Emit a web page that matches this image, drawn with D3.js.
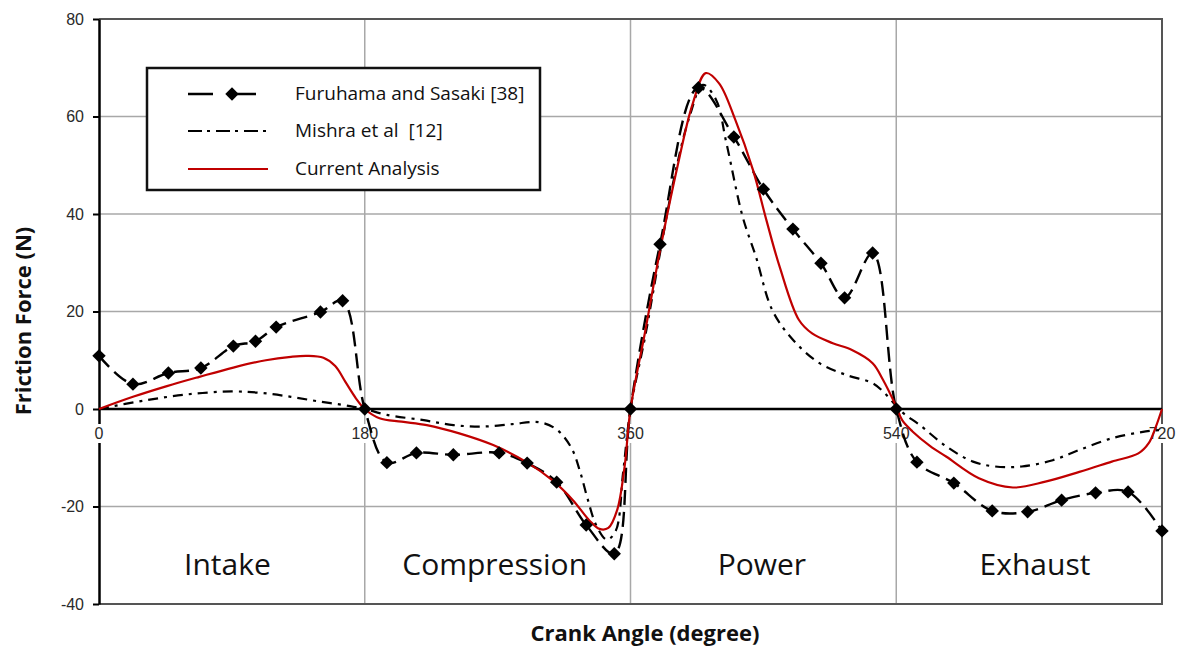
<!DOCTYPE html>
<html>
<head>
<meta charset="utf-8">
<script src="https://cdn.jsdelivr.net/npm/d3@7/dist/d3.min.js"></script>
<style>
  html, body { margin: 0; padding: 0; background: #fff; }
  svg { display: block; }
</style>
</head>
<body>
<svg id="chart" width="1184" height="649"></svg>
<script>
// Piston ring friction force over one four-stroke cycle (crank angle in degrees)

// Furuhama and Sasaki [38] – measured points (shown with diamond markers)
const furuhamaAngle = [0, 23, 47, 69, 91, 106, 120, 150, 165, 180, 195, 215, 240, 271, 290, 310, 330, 349, 360,
  380, 406, 430, 450, 470, 489, 505, 524, 540, 554, 579, 605, 629, 652, 675, 697, 720];
const furuhamaForce = [10.9, 5.1, 7.4, 8.4, 12.9, 13.9, 16.8, 19.9, 22.2, 0, -11, -9, -9.4, -9, -11.1, -15, -23.8, -29.7, 0,
  33.8, 65.9, 55.8, 45.1, 36.9, 29.9, 22.8, 32, 0, -10.9, -15.2, -20.9, -21.1, -18.7, -17.2, -17, -25];

// Mishra et al [12]
const mishraAngle = [0, 30, 60, 90, 110, 130, 150, 170, 180, 195, 220, 240, 260, 280, 298, 310, 320, 326, 331, 337, 344, 350, 355, 360,
  370, 380, 390, 400, 409, 418, 425, 436, 445, 456, 470, 488, 506, 524, 532, 540, 545, 556, 574, 592, 607, 625, 646, 664, 686, 709, 720];
const mishraForce = [0, 1.7, 3, 3.6, 3.3, 2.5, 1.5, 0.6, 0, -1.2, -2.3, -3.3, -3.6, -3.1, -2.7, -4.2, -8, -13, -18.5, -24, -26.8, -25, -13, 0,
  15, 32, 48, 60, 66.5, 63.4, 54.5, 39.4, 31.2, 20.3, 14.2, 9.4, 7, 5.3, 3.3, 0.6, -0.9, -3.3, -7.7, -10.8, -11.8, -11.8, -10.5, -8.4, -6, -4.6, -4.3];

// Current analysis
const currentAngle = [0, 23, 46, 68, 91, 113, 130, 141, 152, 160, 167, 174, 180, 190, 205, 222, 244, 267, 289, 307, 321, 332, 339, 345, 351, 356, 360,
  370, 380, 392, 402, 411, 420, 431, 443, 452, 461, 474, 483, 497, 510, 524, 531, 540, 544, 551, 563, 574, 596, 619, 641, 664, 686, 704, 711, 716, 720];
const currentForce = [0, 2.5, 4.7, 6.6, 8.5, 10, 10.7, 10.9, 10.5, 8.8, 5.5, 2.2, 0, -1.9, -2.6, -3.3, -5, -7.4, -10.8, -14.6, -18.7, -22.8, -24.6, -24.4, -20.7, -11.8, 0,
  16, 32.5, 50, 62.5, 68.9, 66.8, 59.3, 49, 38.8, 29.2, 18.3, 15.5, 13.5, 12.1, 9.4, 6, 0.5, -2.3, -4.6, -7.6, -9.8, -14.2, -16.1, -14.9, -12.9, -10.8, -9.1, -7, -3.5, 0];

const xTicks = [0, 180, 360, 540, 720];
const yTicks = [-40, -20, 0, 20, 40, 60, 80];
const strokeNames = ["Intake", "Compression", "Power", "Exhaust"];
const legendNames = ["Furuhama and Sasaki [38]", "Mishra et al  [12]", "Current Analysis"];

const svg = d3.select("#chart");
const x = d3.scaleLinear().domain([0, 720]).range([99, 1162]);
const y = d3.scaleLinear().domain([-40, 80]).range([604, 19]);

const toPts = (a, f) => a.map((d, i) => [d, f[i]]);
const furuhama = toPts(furuhamaAngle, furuhamaForce);
const mishra = toPts(mishraAngle, mishraForce);
const current = toPts(currentAngle, currentForce);

const calibriLike = "'Open Sans', 'Noto Sans', sans-serif";
const tickFont = "'Liberation Sans', Arial, sans-serif";

// grid
const grid = svg.append("g");
grid.selectAll("line.h").data(yTicks.filter(v => v !== 0 && v !== 80 && v !== -40)).join("line")
  .attr("x1", x(0)).attr("x2", x(720)).attr("y1", d => y(d)).attr("y2", d => y(d))
  .attr("stroke", "#a8a8a8").attr("stroke-width", 1.5);
grid.selectAll("line.v").data(xTicks.filter(v => v !== 0 && v !== 720)).join("line")
  .attr("x1", d => x(d)).attr("x2", d => x(d)).attr("y1", y(80)).attr("y2", y(-40))
  .attr("stroke", "#a8a8a8").attr("stroke-width", 1.5);

// plot frame (top, right, bottom)
grid.append("path")
  .attr("d", `M${x(0)},${y(80)}H${x(720)}V${y(-40)}H${x(0)}`)
  .attr("fill", "none").attr("stroke", "#555").attr("stroke-width", 2);

// zero line
svg.append("line").attr("x1", x(0)).attr("x2", x(720)).attr("y1", y(0)).attr("y2", y(0))
  .attr("stroke", "#000").attr("stroke-width", 2.5);

// y axis
const yAxis = svg.append("g").attr("transform", `translate(${x(0)},0)`)
  .call(d3.axisLeft(y).tickValues(yTicks).tickFormat(d => String(d))
    .tickSize(6).tickSizeOuter(0).tickPadding(9));
yAxis.select(".domain").attr("stroke", "#000").attr("stroke-width", 2.5);
yAxis.selectAll(".tick line").attr("stroke", "#000").attr("stroke-width", 2);
yAxis.selectAll(".tick text").attr("font-family", tickFont)
  .attr("font-size", 16).attr("fill", "#2a2a2a");

// x tick labels sit just under the zero line on a white patch
const xLab = svg.append("g");
xTicks.forEach(v => {
  const t = xLab.append("text").attr("x", x(v)).attr("y", y(0) + 30)
    .attr("text-anchor", "middle")
    .attr("font-family", tickFont)
    .attr("font-size", 16).attr("fill", "#2a2a2a").text(String(v));
  const b = t.node().getBBox();
  xLab.insert("rect", "text").attr("x", b.x - 1).attr("y", b.y - 1)
    .attr("width", b.width + 2).attr("height", b.height + 2).attr("fill", "#fff");
});

// stroke names, centred in each half-revolution band
const strokeMid = [87, 268, 449, 634];
svg.append("g").selectAll("text").data(strokeNames).join("text")
  .attr("x", (d, i) => x(strokeMid[i]))
  .attr("y", 575)
  .attr("text-anchor", "middle").attr("font-family", calibriLike).attr("font-size", 30)
  .attr("fill", "#111").text(d => d);

// series
const line = d3.line().x(d => x(d[0])).y(d => y(d[1])).curve(d3.curveCatmullRom.alpha(0.5));

svg.append("path").datum(mishra).attr("d", line).attr("fill", "none")
  .attr("stroke", "#000").attr("stroke-width", 2.2).attr("stroke-dasharray", "10,6,3,6");

svg.append("path").datum(furuhama).attr("d", line).attr("fill", "none")
  .attr("stroke", "#000").attr("stroke-width", 2.4).attr("stroke-dasharray", "15,7");

svg.append("path").datum(current).attr("d", line).attr("fill", "none")
  .attr("stroke", "#c00000").attr("stroke-width", 2.2);

const diamond = d3.symbol(d3.symbolSquare, 90);
svg.append("g").selectAll("path").data(furuhama).join("path")
  .attr("d", diamond)
  .attr("transform", d => `translate(${x(d[0])},${y(d[1])}) rotate(45)`)
  .attr("fill", "#000");

// legend
const lg = svg.append("g");
lg.append("rect").attr("x", 147).attr("y", 68).attr("width", 393).attr("height", 122)
  .attr("fill", "#fff").attr("stroke", "#111").attr("stroke-width", 2.5);
const rowsY = [94, 131, 169];
lg.append("line").attr("x1", 188).attr("x2", 268).attr("y1", rowsY[0]).attr("y2", rowsY[0])
  .attr("stroke", "#000").attr("stroke-width", 2.4).attr("stroke-dasharray", "25,18");
lg.append("path").attr("d", diamond).attr("transform", `translate(232,${rowsY[0]}) rotate(45)`).attr("fill", "#000");
lg.append("line").attr("x1", 188).attr("x2", 268).attr("y1", rowsY[1]).attr("y2", rowsY[1])
  .attr("stroke", "#000").attr("stroke-width", 2.2).attr("stroke-dasharray", "14,5,3,6");
lg.append("line").attr("x1", 188).attr("x2", 268).attr("y1", rowsY[2]).attr("y2", rowsY[2])
  .attr("stroke", "#c00000").attr("stroke-width", 2.2);
lg.selectAll("text").data(legendNames).join("text")
  .attr("x", 295).attr("y", (d, i) => rowsY[i] + 6)
  .attr("font-family", calibriLike).attr("font-size", 19).attr("fill", "#111")
  .attr("xml:space", "preserve").style("white-space", "pre").text(d => d);

// axis titles
svg.append("text").attr("x", 645).attr("y", 641).attr("text-anchor", "middle")
  .attr("font-family", calibriLike).attr("font-weight", "bold").attr("font-size", 22)
  .attr("fill", "#111").text("Crank Angle (degree)");
svg.append("text").attr("transform", "translate(31,321) rotate(-90)").attr("text-anchor", "middle")
  .attr("font-family", calibriLike).attr("font-weight", "bold").attr("font-size", 22)
  .attr("fill", "#111").text("Friction Force (N)");
</script>
</body>
</html>
